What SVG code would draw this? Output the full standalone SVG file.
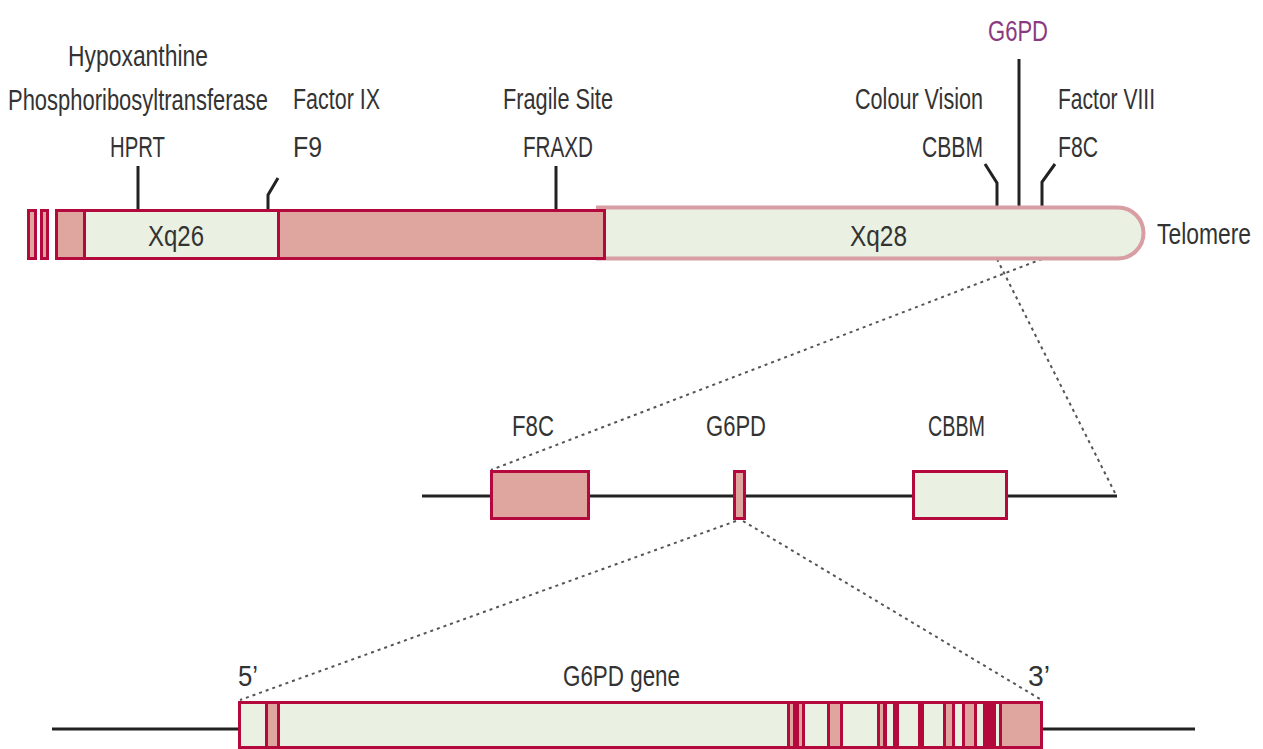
<svg xmlns="http://www.w3.org/2000/svg" width="1263" height="749" viewBox="0 0 1263 749">
<style>
.t{font-family:"Liberation Sans",Arial,sans-serif;font-size:22px;fill:#333;}
.g{fill:#8a3a7e;}
.dk{fill:#b3093c;}
.pk{fill:#dfa6a0;}
.lt{fill:#eaf1e2;}
.box{stroke:#b3093c;stroke-width:3;}
.ln{stroke:#222;stroke-width:3;fill:none;}
.dot{stroke:#555;stroke-width:2;stroke-dasharray:3 4;fill:none;}
</style>
<rect width="1263" height="749" fill="#fff"/>

<g id="connectors">
  <line class="ln" x1="138" y1="166" x2="138" y2="209"/>
  <polyline class="ln" points="268,209 268,195 278,178" stroke="#555"/>
  <line class="ln" x1="556" y1="166" x2="556" y2="209"/>
  <polyline class="ln" points="997,207 997,183 985,164"/>
  <line class="ln" x1="1019" y1="59" x2="1019" y2="207"/>
  <polyline class="ln" points="1042,207 1042,182 1055,164" stroke="#666"/>
  <line class="dot" x1="1042" y1="259" x2="491" y2="470"/>
  <line class="dot" x1="997" y1="259" x2="1116" y2="495"/>
  <line class="dot" x1="736" y1="521" x2="240" y2="700"/>
  <line class="dot" x1="743" y1="521" x2="1040" y2="699"/>
  <line class="ln" x1="422" y1="496" x2="1117" y2="496"/>
  <line class="ln" x1="52" y1="729" x2="238" y2="729"/>
  <line class="ln" x1="1043" y1="729" x2="1195" y2="729"/>
</g>

<g id="chromosome">
  <path d="M598,207.5 H1118 A25.5,25.5 0 0 1 1118,258.5 H598 Z" fill="#eaf1e2" stroke="#d89ea4" stroke-width="4"/>
  <rect class="pk box" x="28.5" y="210.5" width="7" height="48"/>
  <rect class="pk box" x="41.5" y="210.5" width="6" height="48"/>
  <rect class="pk box" x="56.5" y="210.5" width="548" height="48"/>
  <rect class="lt box" x="84.5" y="210.5" width="194" height="48"/>
  <text class="t" transform="translate(148,246) scale(1,1.35)" textLength="56" lengthAdjust="spacingAndGlyphs">Xq26</text>
  <text class="t" transform="translate(850,246) scale(1,1.35)" textLength="57" lengthAdjust="spacingAndGlyphs">Xq28</text>
  <text class="t" transform="translate(1157,244) scale(1,1.35)" textLength="94" lengthAdjust="spacingAndGlyphs">Telomere</text>
</g>

<g id="label-hprt">
  <text class="t" transform="translate(68,66) scale(1,1.35)" textLength="140" lengthAdjust="spacingAndGlyphs">Hypoxanthine</text>
  <text class="t" transform="translate(8,110) scale(1,1.35)" textLength="260" lengthAdjust="spacingAndGlyphs">Phosphoribosyltransferase</text>
  <text class="t" transform="translate(110,157) scale(1,1.35)" textLength="55" lengthAdjust="spacingAndGlyphs">HPRT</text>
</g>
<g id="label-f9">
  <text class="t" transform="translate(293,109) scale(1,1.35)" textLength="87" lengthAdjust="spacingAndGlyphs">Factor IX</text>
  <text class="t" transform="translate(293,157) scale(1,1.35)" textLength="29" lengthAdjust="spacingAndGlyphs">F9</text>
</g>
<g id="label-fraxd">
  <text class="t" transform="translate(503,109) scale(1,1.35)" textLength="110" lengthAdjust="spacingAndGlyphs">Fragile Site</text>
  <text class="t" transform="translate(523,157) scale(1,1.35)" textLength="70" lengthAdjust="spacingAndGlyphs">FRAXD</text>
</g>
<g id="label-g6pd">
  <text class="t g" transform="translate(988,41) scale(1,1.35)" textLength="60" lengthAdjust="spacingAndGlyphs">G6PD</text>
</g>
<g id="label-cbbm">
  <text class="t" transform="translate(855,109) scale(1,1.35)" textLength="128" lengthAdjust="spacingAndGlyphs">Colour Vision</text>
  <text class="t" transform="translate(922,157) scale(1,1.35)" textLength="61" lengthAdjust="spacingAndGlyphs">CBBM</text>
</g>
<g id="label-f8c">
  <text class="t" transform="translate(1058,109) scale(1,1.35)" textLength="97" lengthAdjust="spacingAndGlyphs">Factor VIII</text>
  <text class="t" transform="translate(1058,157) scale(1,1.35)" textLength="40" lengthAdjust="spacingAndGlyphs">F8C</text>
</g>

<g id="region">
  <rect class="pk box" x="491.5" y="471.5" width="97" height="47"/>
  <rect class="pk box" x="734.5" y="471.5" width="10" height="47"/>
  <rect class="lt box" x="913.5" y="471.5" width="93" height="47"/>
  <text class="t" transform="translate(512,436) scale(1,1.35)" textLength="42" lengthAdjust="spacingAndGlyphs">F8C</text>
  <text class="t" transform="translate(706,436) scale(1,1.35)" textLength="60" lengthAdjust="spacingAndGlyphs">G6PD</text>
  <text class="t" transform="translate(928,436) scale(1,1.35)" textLength="57" lengthAdjust="spacingAndGlyphs">CBBM</text>
</g>

<g id="gene">
  <rect class="lt" x="239" y="702" width="803" height="46"/>
  <rect class="dk" x="265" y="702" width="3" height="46"/>
  <rect class="pk" x="268" y="702" width="9" height="46"/>
  <rect class="dk" x="277" y="702" width="3" height="46"/>
  <rect class="dk" x="787" y="702" width="3" height="46"/>
  <rect class="pk" x="790" y="702" width="3" height="46"/>
  <rect class="dk" x="793" y="702" width="6" height="46"/>
  <rect class="pk" x="799" y="702" width="3" height="46"/>
  <rect class="dk" x="802" y="702" width="3" height="46"/>
  <rect class="dk" x="827" y="702" width="3" height="46"/>
  <rect class="pk" x="830" y="702" width="10" height="46"/>
  <rect class="dk" x="840" y="702" width="3" height="46"/>
  <rect class="dk" x="877" y="702" width="3" height="46"/>
  <rect class="pk" x="880" y="702" width="3" height="46"/>
  <rect class="dk" x="883" y="702" width="4" height="46"/>
  <rect class="dk" x="893" y="702" width="6" height="46"/>
  <rect class="dk" x="918" y="702" width="6" height="46"/>
  <rect class="dk" x="943" y="702" width="3" height="46"/>
  <rect class="pk" x="946" y="702" width="6" height="46"/>
  <rect class="dk" x="952" y="702" width="3" height="46"/>
  <rect class="dk" x="962" y="702" width="3" height="46"/>
  <rect class="pk" x="965" y="702" width="9" height="46"/>
  <rect class="dk" x="974" y="702" width="3" height="46"/>
  <rect class="dk" x="983" y="702" width="13" height="46"/>
  <rect class="dk" x="999" y="702" width="3" height="46"/>
  <rect class="pk" x="1002" y="702" width="39" height="46"/>
  <rect x="239.5" y="702.5" width="802" height="45" fill="none" class="box"/>
  <text class="t" transform="translate(238,686) scale(1,1.35)" textLength="20" lengthAdjust="spacingAndGlyphs">5’</text>
  <text class="t" transform="translate(563,686) scale(1,1.35)" textLength="117" lengthAdjust="spacingAndGlyphs">G6PD gene</text>
  <text class="t" transform="translate(1028,686) scale(1,1.35)" textLength="22" lengthAdjust="spacingAndGlyphs">3’</text>
</g>
</svg>
